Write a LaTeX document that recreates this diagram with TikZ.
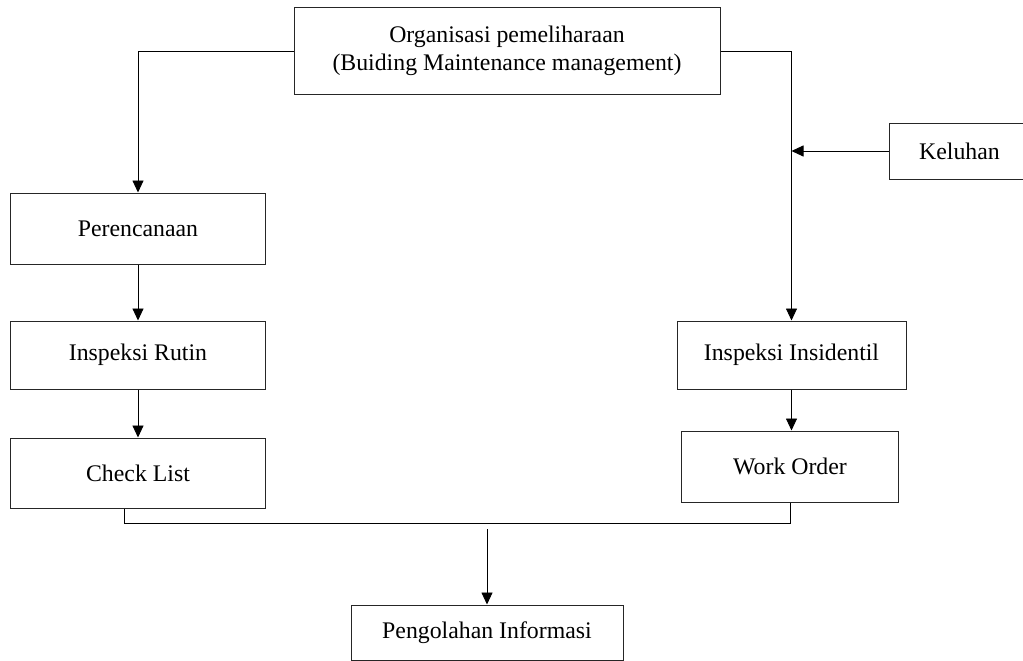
\documentclass[tikz,border=0pt]{standalone}
\usepackage{fontspec}
\setmainfont{Liberation Serif}
\usetikzlibrary{arrows.meta}
\begin{document}
\begin{tikzpicture}[x=1pt,y=-1pt,
  box/.style={draw=black!85, line width=1pt, inner sep=0pt, align=center,
    font=\fontsize{23.8}{28}\selectfont},
  arr/.style={draw=black, line width=0.9pt, -{Triangle[length=12pt,width=11pt]}},
  ln/.style={draw=black, line width=0.9pt}]
\useasboundingbox (0,0) rectangle (1023,661);
\node[box, minimum width=426pt, minimum height=86pt] (org) at (507,51)
  {Organisasi pemeliharaan\\(Buiding Maintenance management)};
\node[box, minimum width=255pt, minimum height=71pt] (per) at (138,228.5) {Perencanaan};
\node[box, minimum width=255pt, minimum height=68pt] (rut) at (138,355) {Inspeksi Rutin};
\node[box, minimum width=255pt, minimum height=70pt] (chk) at (138,473) {Check List};
\node[box, minimum width=141pt, minimum height=56pt] (kel) at (959.5,151) {Keluhan};
\node[box, minimum width=229pt, minimum height=68pt] (ins) at (791.5,355) {Inspeksi Insidentil};
\node[box, minimum width=217pt, minimum height=71pt] (wo) at (790,466.5) {Work Order};
\node[box, minimum width=272pt, minimum height=55pt] (peng) at (487,632.5) {Pengolahan Informasi};
\coordinate (j) at (487,529);
\draw[arr] (org.west) -| (per.north);
\draw[arr] (org.east) -| (ins.north);
\draw[arr] (kel.west) -- (kel.west -| ins.north);
\draw[arr] (per.south) -- (rut.north);
\draw[arr] (rut.south) -- (chk.north);
\draw[arr] (ins.south) -- (ins.south |- wo.north);
\draw[ln] ([xshift=-14pt]chk.south) -- ++(0,15) -| (wo.south);
\draw[arr] (j) -- (peng.north);
\end{tikzpicture}
\end{document}
